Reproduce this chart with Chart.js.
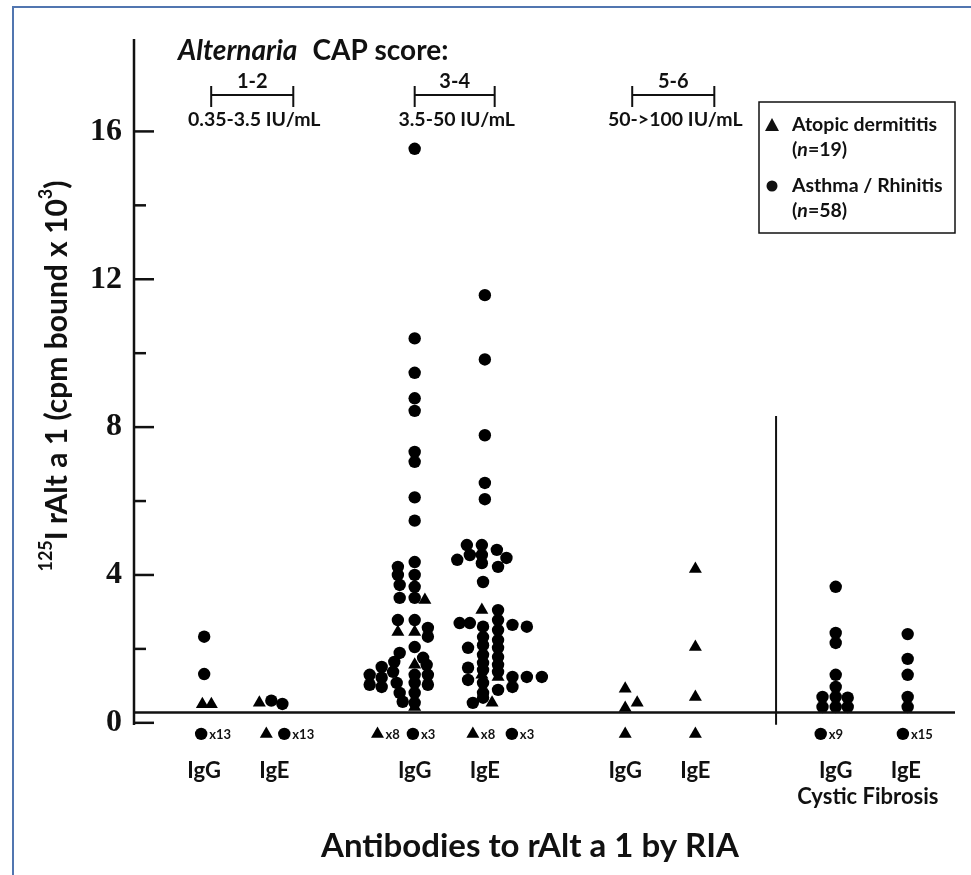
<!DOCTYPE html>
<html>
<head>
<meta charset="utf-8">
<script src="https://cdn.jsdelivr.net/npm/chart.js@4.4.1/dist/chart.umd.min.js"></script>
<style>
    html, body { margin: 0; padding: 0; background: #fff; }
    #frame { position: absolute; left: 12px; top: 6px; width: 959px; height: 869px;
             border-left: 2px solid #5176b0; border-top: 2px solid #5176b0; }
    #c { position: absolute; left: 0; top: 0; }
</style>
</head>
<body>
<div id="frame"></div>
<canvas id="c" width="971" height="875"></canvas>
<script>
// categories along the x axis (x = position in category units)
const catLabels = ['IgG', 'IgE', 'IgG', 'IgE', 'IgG', 'IgE', 'IgG', 'IgE'];
const catPos = [0, 1, 3, 4, 6, 7, 9, 10];

// y ticks (labels only on every 4)
const yTicks = [0, 2, 4, 6, 8, 10, 12, 14, 16];

// CAP score groups (header brackets)
const capScores = ['1-2', '3-4', '5-6'];
const capRanges = ['0.35-3.5 IU/mL', '3.5-50 IU/mL', '50->100 IU/mL'];
const capFrom = [0.1, 3.0, 6.1];
const capTo = [1.27, 4.14, 7.27];

// detection cut-off line and the "below cut-off" row
const cutoff = 0.28;
const belowValue = -0.3;

// each point = [lane, value] ; lane = sideways offset in dot widths
// Asthma / Rhinitis (circles)
const g1IgG_c = [[0, 2.33], [0, 1.32]];
const g1IgE_c = [[-0.25, 0.6], [0.67, 0.51]];
const g2IgG_c = [
    [0, 15.53], [0, 10.4], [0, 9.47], [0, 8.78], [0, 8.44], [0, 7.33], [0, 7.06], [0, 6.1], [0, 5.47],
    [-1.4, 4.22], [0, 4.35], [-1.4, 4.0], [0, 4.0], [-1.25, 3.73], [0, 3.68], [-1.25, 3.38], [0, 3.38],
    [-1.4, 2.78], [0, 2.78], [1.1, 2.57], [1.1, 2.33], [0, 2.05], [-1.25, 1.89], [0.7, 1.76], [1.0, 1.57],
    [-2.75, 1.51], [-1.7, 1.65], [-3.75, 1.3], [-2.75, 1.22], [-1.8, 1.38], [0, 1.3], [1.1, 1.3],
    [-3.75, 1.03], [-2.75, 0.97], [-1.5, 1.08], [0, 1.08], [1.1, 1.03], [-1.25, 0.81], [0, 0.81],
    [-1.0, 0.57], [0, 0.54]
];
const g2IgE_c = [
    [0, 11.57], [0, 9.83], [0, 7.78], [0, 6.49], [0, 6.05],
    [-1.5, 4.81], [-0.25, 4.81], [1.0, 4.68], [-2.3, 4.41], [-1.25, 4.54], [-0.25, 4.54], [1.8, 4.46],
    [-0.25, 4.32], [1.1, 4.22], [-0.15, 3.81],
    [1.1, 3.05], [-2.1, 2.7], [-1.25, 2.7], [-0.15, 2.6], [1.1, 2.78], [2.3, 2.65], [3.5, 2.6],
    [1.1, 2.51], [-0.15, 2.32], [1.1, 2.24], [-0.15, 2.1], [-1.4, 2.03], [1.1, 2.03], [-0.15, 1.84],
    [1.1, 1.78], [-0.15, 1.62], [1.1, 1.57], [-1.4, 1.49], [-0.15, 1.43], [1.1, 1.38], [-1.4, 1.16],
    [2.3, 1.24], [3.5, 1.24], [4.75, 1.24], [-0.15, 1.08], [2.3, 0.97], [1.1, 0.89], [-0.15, 0.81],
    [-0.15, 0.68], [-1.0, 0.54]
];
const cfIgG_c = [[0, 3.68], [0, 2.43], [0, 2.16], [0, 1.3], [0, 0.97], [0, 0.7], [0, 0.43],
                 [-1.1, 0.7], [-1.1, 0.43], [1.0, 0.68], [1.0, 0.43]];
const cfIgE_c = [[0.15, 2.4], [0.15, 1.73], [0.15, 1.3], [0.15, 0.7], [0.15, 0.43]];

// Atopic dermatitis (triangles)
const g1IgG_t = [[-0.15, 0.5], [0.6, 0.5]];
const g1IgE_t = [[-1.25, 0.54]];
const g2IgG_t = [[0.85, 3.32], [-1.4, 2.46], [0, 2.46], [0, 1.57], [0, 0.43]];
const g2IgE_t = [[-0.25, 3.05], [-0.25, 1.3], [1.1, 1.24], [0.6, 0.54]];
const g3IgG_t = [[0, 0.92], [0, 0.4], [1.0, 0.54]];
const g3IgE_t = [[0, 4.16], [0, 2.05], [0, 0.7]];

const circlesByCat = [g1IgG_c, g1IgE_c, g2IgG_c, g2IgE_c, [], [], cfIgG_c, cfIgE_c];
const trianglesByCat = [g1IgG_t, g1IgE_t, g2IgG_t, g2IgE_t, g3IgG_t, g3IgE_t, [], []];

// below cut-off: [category index, lane, count]
const belowCircles = [[0, -0.25, 13], [1, 0.83, 13], [2, -0.15, 3], [3, 2.25, 3], [6, -1.25, 9], [7, -0.25, 15]];
const belowTriangles = [[1, -0.67, 1], [2, -3.1, 8], [3, -1.0, 8], [4, 0, 1], [5, 0, 1]];

// legend
const legendNames = ['Atopic dermititis', 'Asthma / Rhinitis'];
const legendN = ['19', '58'];

const LANE = 0.171;   // one dot width in x units
const FONT = 'Lato, "Open Sans", sans-serif';

function toPoints(list){
    let pts = [];
    list.forEach((arr, i) => {
        arr.forEach(p => pts.push({ x: catPos[i] + p[0] * LANE, y: p[1] }));
    });
    return pts;
}
function belowPoints(list){
    return list.map(b => ({ x: catPos[b[0]] + b[1] * LANE, y: belowValue, n: b[2] }));
}

const circlePts = toPoints(circlesByCat).concat(belowPoints(belowCircles));
const trianglePts = toPoints(trianglesByCat).concat(belowPoints(belowTriangles));

// texts, brackets, axis line, ticks, legend
const annot = {
    id: 'annot',
    afterDraw(chart){
        const ctx = chart.ctx;
        const xs = chart.scales.x, ys = chart.scales.y;
        const area = chart.chartArea;
        ctx.save();
        ctx.fillStyle = '#111';
        ctx.strokeStyle = '#111';

        // y axis line (stops just under 0) and tick marks pointing inward
        ctx.lineWidth = 2.5;
        ctx.beginPath();
        ctx.moveTo(area.left, ys.getPixelForValue(ys.max));
        ctx.lineTo(area.left, ys.getPixelForValue(-0.06));
        ctx.stroke();
        ys.ticks.forEach(t => {
            const y = ys.getPixelForValue(t.value);
            const len = t.value % 4 === 0 ? 20 : 12;
            ctx.beginPath();
            ctx.moveTo(area.left, y);
            ctx.lineTo(area.left + len, y);
            ctx.stroke();
        });

        // header
        ctx.textBaseline = 'middle';
        ctx.textAlign = 'left';
        ctx.font = 'italic bold 28px ' + FONT;
        ctx.fillText('Alternaria', 178, 51);
        const w1 = ctx.measureText('Alternaria').width;
        ctx.font = 'bold 28px ' + FONT;
        ctx.fillText('CAP score:', 178 + w1 + 15, 51);

        // brackets
        ctx.lineWidth = 2;
        capScores.forEach((s, i) => {
            const a = xs.getPixelForValue(capFrom[i]);
            const b = xs.getPixelForValue(capTo[i]);
            ctx.beginPath();
            ctx.moveTo(a, 86); ctx.lineTo(a, 107);
            ctx.moveTo(b, 86); ctx.lineTo(b, 107);
            ctx.moveTo(a, 95); ctx.lineTo(b, 95);
            ctx.stroke();
            ctx.textAlign = 'center';
            ctx.font = 'bold 20px ' + FONT;
            ctx.fillText(s, (a + b) / 2, 82);
            ctx.font = 'bold 19.5px ' + FONT;
            ctx.fillText(capRanges[i], (a + b) / 2 + 2, 120);
        });

        // counts next to the below-cut-off markers
        ctx.textAlign = 'left';
        ctx.font = 'bold 13px ' + FONT;
        circlePts.concat(trianglePts).forEach(p => {
            if (p.n && p.n > 1) {
                ctx.fillText('x' + p.n, xs.getPixelForValue(p.x) + 8, ys.getPixelForValue(p.y) + 1);
            }
        });

        // group caption under the last two categories
        ctx.textAlign = 'center';
        ctx.font = 'bold 22px ' + FONT;
        ctx.fillText('Cystic Fibrosis', (xs.getPixelForValue(catPos[6]) + xs.getPixelForValue(catPos[7])) / 2 - 3, 797);

        // x axis title
        ctx.font = 'bold 33px ' + FONT;
        ctx.fillText('Antibodies to rAlt a 1 by RIA', 530, 846);

        // legend box
        ctx.lineWidth = 1.5;
        ctx.strokeRect(759, 102, 196, 131);
        ctx.textAlign = 'left';
        ctx.beginPath();
        ctx.moveTo(772, 118); ctx.lineTo(779, 131); ctx.lineTo(765, 131); ctx.closePath();
        ctx.fill();
        ctx.beginPath();
        ctx.arc(772, 186, 5.5, 0, Math.PI * 2);
        ctx.fill();
        [125, 186].forEach((y, i) => {
            ctx.font = 'bold 19.5px ' + FONT;
            ctx.fillText(legendNames[i], 792, y);
            let x = 792;
            ctx.fillText('(', x, y + 25);
            x += ctx.measureText('(').width;
            ctx.font = 'italic bold 19.5px ' + FONT;
            ctx.fillText('n', x, y + 25);
            x += ctx.measureText('n').width;
            ctx.font = 'bold 19.5px ' + FONT;
            ctx.fillText('=' + legendN[i] + ')', x, y + 25);
        });

        // y axis title with superscripts
        ctx.translate(57, 376);
        ctx.rotate(-Math.PI / 2);
        const parts = [['125', 18, -11], ['I rAlt a 1 (cpm bound x 10', 30, 0], ['3', 18, -11], [')', 30, 0]];
        let total = 0;
        parts.forEach(p => { ctx.font = 'bold ' + p[1] + 'px ' + FONT; total += ctx.measureText(p[0]).width; });
        let x = -total / 2;
        parts.forEach(p => {
            ctx.font = 'bold ' + p[1] + 'px ' + FONT;
            ctx.fillText(p[0], x, p[2]);
            x += ctx.measureText(p[0]).width;
        });
        ctx.restore();
    }
};

const ctx = document.getElementById('c').getContext('2d');
const chart = new Chart(ctx, {
    type: 'scatter',
    data: {
        datasets: [{
            label: 'cut-off',
            type: 'line',
            data: [{ x: -1, y: cutoff }, { x: 10.7, y: cutoff }],
            borderColor: '#111',
            borderWidth: 2.5,
            pointRadius: 0,
            clip: false
        }, {
            label: 'divider',
            type: 'line',
            data: [{ x: 8.15, y: -0.05 }, { x: 8.15, y: 8.3 }],
            borderColor: '#111',
            borderWidth: 2,
            pointRadius: 0,
            clip: false
        }, {
            label: 'Asthma / Rhinitis',
            data: circlePts,
            pointStyle: 'circle',
            pointRadius: 6.2,
            backgroundColor: '#000',
            borderWidth: 0,
            clip: false
        }, {
            label: 'Atopic dermititis',
            data: trianglePts,
            pointStyle: 'triangle',
            pointRadius: 7.5,
            backgroundColor: '#000',
            borderWidth: 0,
            clip: false
        }]
    },
    options: {
        responsive: false,
        animation: false,
        layout: { padding: { left: 0, right: 16, top: 39, bottom: 0 } },
        plugins: {
            legend: { display: false },
            tooltip: { enabled: false }
        },
        scales: {
            x: {
                type: 'linear',
                min: -1,
                max: 10.7,
                border: { display: false },
                grid: { display: false, drawTicks: false },
                afterBuildTicks: (s) => { s.ticks = catPos.map(v => ({ value: v })); },
                afterFit: (s) => { s.height = 130; },
                ticks: {
                    callback: (v, i) => catLabels[i],
                    font: { family: FONT, size: 22, weight: 'bold' },
                    color: '#111',
                    padding: 13,
                    maxRotation: 0,
                    autoSkip: false
                }
            },
            y: {
                min: -0.6,
                max: 18.5,
                border: { display: false },
                grid: { display: false, drawTicks: false },
                afterBuildTicks: (s) => { s.ticks = yTicks.map(v => ({ value: v })); },
                afterFit: (s) => { s.width = 134; },
                ticks: {
                    callback: (v) => v % 4 === 0 ? String(v) : '',
                    font: { family: '"Liberation Serif", serif', size: 32, weight: 'bold' },
                    color: '#111',
                    padding: 12,
                    autoSkip: false
                }
            }
        }
    },
    plugins: [annot]
});
</script>
</body>
</html>
